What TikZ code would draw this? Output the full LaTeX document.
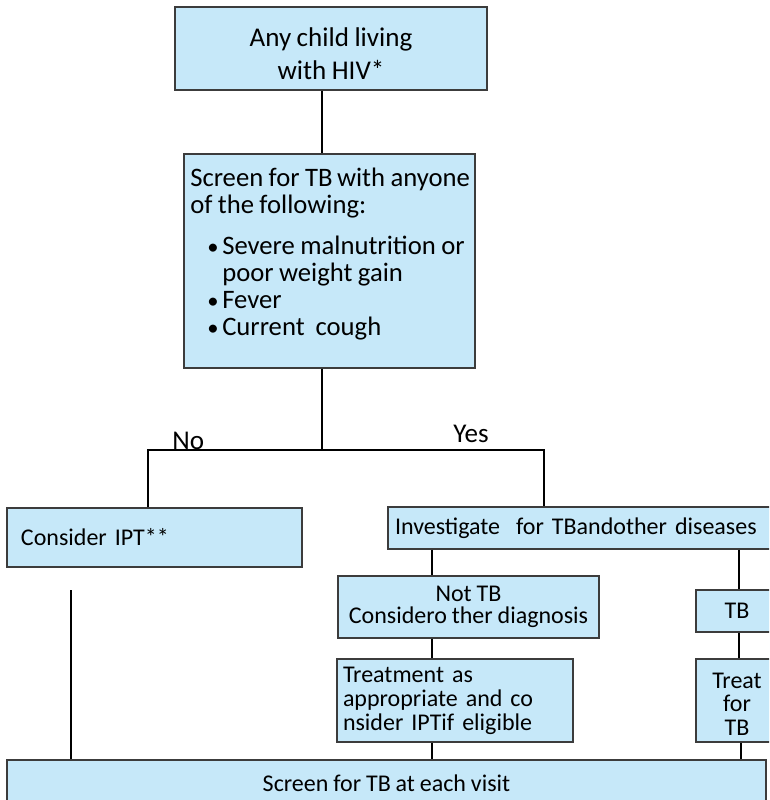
\documentclass[tikz,border=0pt]{standalone}
\usepackage{fontspec}
\setmainfont{Carlito}[WordSpace=0.9]
\newlength\upx
\setlength\upx{0.75pt}
\definecolor{boxfill}{HTML}{C6E8F9}
\definecolor{boxline}{HTML}{3C3C3C}
\newcommand\bulitem{\hspace*{12.75pt}\makebox[11.25pt][l]{\fontsize{17}{17}\selectfont\textbullet}}
\begin{document}
\begin{tikzpicture}[x=0.75pt,y=-0.75pt,
  box/.style={draw=boxline, line width=1.1pt, fill=boxfill, inner sep=0pt, rectangle},
  link/.style={draw=black, line width=0.9pt},
  big/.style={font=\fontsize{20.3}{24.5}\selectfont},
  small/.style={font=\fontsize{18}{17.6}\selectfont},
  txt/.style={inner sep=0pt, text=black}
]
\clip (0,0) rectangle (769,800);
\fill[white] (0,0) rectangle (769,800);

% boxes (centre, width and height in pixel units)
\node[box, minimum width=312\upx, minimum height=83\upx] (top) at (331,48.5) {};
\node[txt, big, align=center] (toptext) at (331,54) {Any child living\\with HIV*};

\node[box, minimum width=291\upx, minimum height=214\upx] (screen) at (329.5,261) {};
\node[txt, anchor=north west, align=left, font=\fontsize{20}{20.25}\selectfont] (screentext) at (190,168)
  {Screen for TB\,with anyone\\
   of the following:\\[10.5pt]
   \bulitem Severe malnutrition or\\
   \hspace*{24pt}poor weight gain\\
   \bulitem Fever\\
   \bulitem Current\ \ cough};

\node[box, small, minimum width=295\upx, minimum height=59\upx, align=left, text width=267\upx] (ipt) at (154.5,537.5) {Consider IPT**};
\node[box, small, minimum width=392\upx, minimum height=42\upx, align=left, text width=378\upx] (inv) at (584,528) {Investigate\ \ for TBandother diseases};
\node[box, small, minimum width=261\upx, minimum height=62\upx, align=center, font=\fontsize{18}{16.5}\selectfont] (nottb) at (468.5,607) {Not TB\\Considero ther diagnosis};
\node[box, small, minimum width=82\upx, minimum height=42\upx] (tb) at (737,611) {TB};
\node[box, small, minimum width=236\upx, minimum height=83\upx, align=left, text width=224\upx, font=\fontsize{18}{18}\selectfont] (treat) at (455,700.5) {Treatment as\\appropriate and co\\nsider IPTif eligible};
\node[box, small, minimum width=82\upx, minimum height=83\upx, align=center] (treattb) at (737,700.5) {\rule{0pt}{17pt}Treat\\for\\TB};
\node[box, small, minimum width=759\upx, minimum height=46\upx] (visit) at (386.5,783) {Screen for TB at each visit};

% branch labels
\node[txt, big, anchor=base west] (no) at (172,449) {No};
\node[txt, big, anchor=base west] (yes) at (453,442) {Yes};

% connector positions
\coordinate (mainX) at (322,0);
\coordinate (split) at (322,450);
\coordinate (noX) at (148,450);
\coordinate (yesX) at (544,450);
\coordinate (ntX) at (432,0);
\coordinate (tbX) at (739,0);
\coordinate (tbX2) at (741,0);
\coordinate (iptEnd) at (71,590);

% connectors
\draw[link] (top.south -| mainX) -- (screen.north -| mainX);
\draw[link] (screen.south -| mainX) -- (split);
\draw[link] (ipt.north -| noX) -- (noX) -- (yesX) -- (inv.north -| yesX);
\draw[link] (inv.south -| ntX) -- (nottb.north -| ntX);
\draw[link] (nottb.south -| ntX) -- (treat.north -| ntX);
\draw[link] (treat.south -| ntX) -- (visit.north -| ntX);
\draw[link] (inv.south -| tbX) -- (tb.north -| tbX);
\draw[link] (tb.south -| tbX) -- (treattb.north -| tbX);
\draw[link] (treattb.south -| tbX2) -- (visit.north -| tbX2);
\draw[link] (iptEnd) -- (visit.north -| iptEnd);
\end{tikzpicture}
\end{document}
